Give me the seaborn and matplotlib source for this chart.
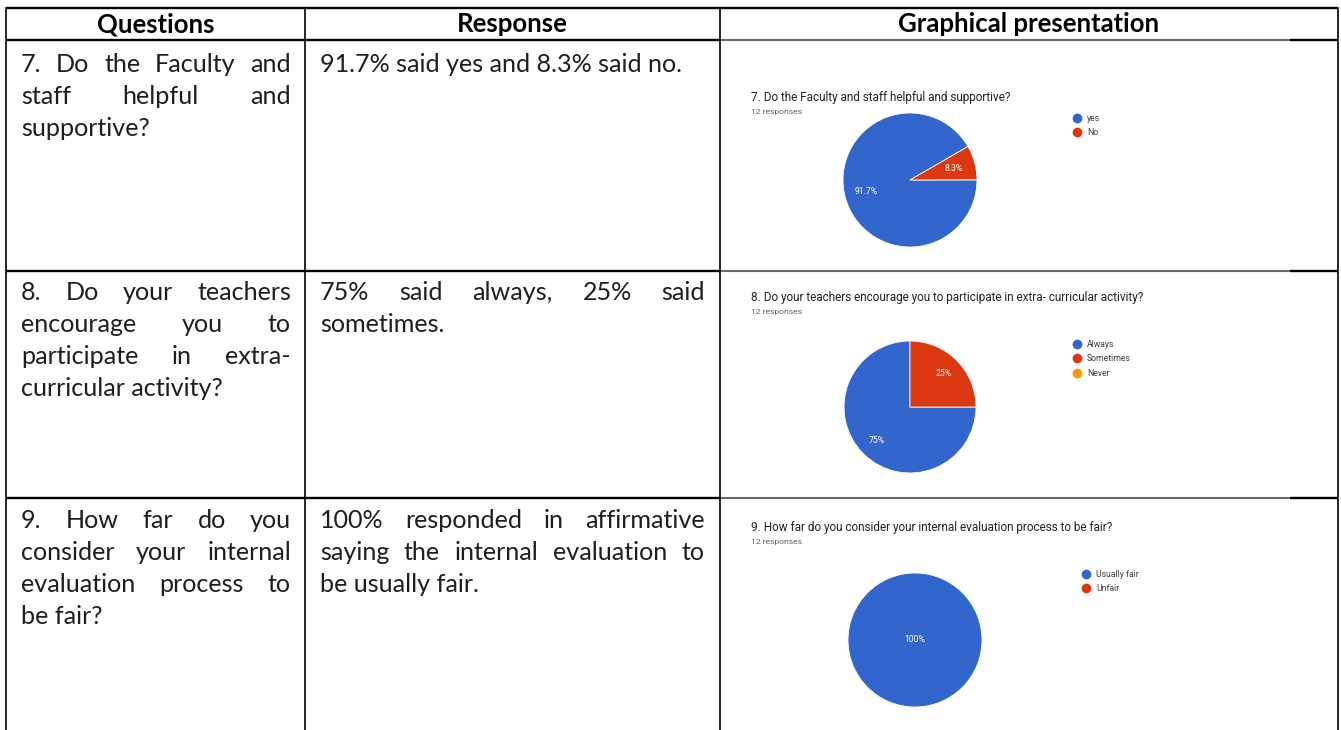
import matplotlib
matplotlib.use("Agg")
import matplotlib.pyplot as plt
import seaborn as sns
from matplotlib.lines import Line2D

# =========================
# DATA
# =========================

headers = ["Questions", "Response", "Graphical presentation"]

question_lines = [
    ["7. Do the Faculty and", "staff helpful and", "supportive?"],
    ["8. Do your teachers", "encourage you to", "participate in extra-", "curricular activity?"],
    ["9. How far do you", "consider your internal", "evaluation process to", "be fair?"],
]

response_lines = [
    ["91.7% said yes and 8.3% said no."],
    ["75% said always, 25% said", "sometimes."],
    ["100% responded in affirmative", "saying the internal evaluation to", "be usually fair."],
]

chart_titles = [
    "7. Do the Faculty and staff helpful and supportive?",
    "8. Do your teachers encourage you to participate in extra- curricular activity?",
    "9. How far do you consider your internal evaluation process to be fair?",
]
n_responses = [12, 12, 12]

labels_q7 = ["yes", "No"]
share_q7 = [91.7, 8.3]

labels_q8 = ["Always", "Sometimes", "Never"]
share_q8 = [75, 25, 0]

labels_q9 = ["Usually fair", "Unfair"]
share_q9 = [100, 0]

# =========================
# STYLE / LAYOUT
# =========================

sns.set_theme(style="white")
palette = sns.color_palette(["#3366cc", "#dc3912", "#ff9900"])

W, H = 1341, 730
fig = plt.figure(figsize=(W / 100, H / 100), dpi=100)
ax = fig.add_axes([0, 0, 1, 1])
ax.set_xlim(0, W)
ax.set_ylim(H, 0)
ax.axis("off")
renderer = fig.canvas.get_renderer()

BODY = dict(family="Lato", color="#1e1e1e")
HEAD = dict(family="Lato", weight="bold", color="black")
GF = "Roboto"


def text_width(s, size, **kw):
    t = ax.text(0, 0, s, fontsize=size, **kw)
    w = t.get_window_extent(renderer).width
    t.remove()
    return w


def fit_size(s, target, **kw):
    return 10 * target / text_width(s, 10, **kw)


def justify(line, x0, x1, y, size, last=False, **kw):
    words = line.split()
    if last or len(words) == 1:
        ax.text(x0, y, line, fontsize=size, va="center", ha="left", **kw)
        return
    widths = [text_width(w, size, **kw) for w in words]
    gap = (x1 - x0 - sum(widths)) / (len(words) - 1)
    x = x0
    for w, wd in zip(words, widths):
        ax.text(x, y, w, fontsize=size, va="center", ha="left", **kw)
        x += wd + gap


body_size = fit_size("91.7% said yes and 8.3% said no.", 363, **BODY)
head_size = fit_size("Graphical presentation", 261, **HEAD)

# table rules
col_x = [6, 305, 720, 1338]
row_y = [8, 40, 271, 498]
for j, y in enumerate(row_y):
    if j == 0:
        ax.plot([col_x[0], col_x[3]], [y, y], color="black", lw=1.7, solid_capstyle="butt")
        continue
    ax.plot([col_x[0], col_x[2]], [y, y], color="black", lw=1.7, solid_capstyle="butt")
    ax.plot([col_x[2], 1290], [y, y], color="#6a6a6a", lw=1.5, solid_capstyle="butt")
    ax.plot([1290, col_x[3]], [y, y], color="black", lw=1.7, solid_capstyle="butt")
for x in col_x:
    ax.plot([x, x], [row_y[0], H], color="black", lw=1.2)

# header
for i, h in enumerate(headers):
    ax.text((col_x[i] + col_x[i + 1]) / 2, 24, h, fontsize=head_size,
            ha="center", va="center", **HEAD)

# body text
row_top = [64, 292, 520]
spacing = 32.3
for r in range(3):
    q = question_lines[r]
    for i, line in enumerate(q):
        justify(line, 21, 291, row_top[r] + i * spacing, body_size,
                last=(i == len(q) - 1), **BODY)
    rr = response_lines[r]
    for i, line in enumerate(rr):
        justify(line, 320, 705, row_top[r] + i * spacing, body_size,
                last=(i == len(rr) - 1), **BODY)

# =========================
# PIE CHARTS
# =========================

charts = [
    (labels_q7, share_q7, (910, 180), 67, 30, 0.68, 97, 1074, 114),
    (labels_q8, share_q8, (910, 407), 66, 90, 0.72, 297, 1074, 340),
    (labels_q9, share_q9, (915, 640), 67, 90, 0.0, 527, 1083, 570),
]

title_size = fit_size(chart_titles[0], 263, family=GF)


def pct_label(p):
    s = f"{p:.1f}%"
    return s.replace(".0%", "%")


for k, (labels, share, (cx, cy), rad, start, pdist, ty, lx, ly) in enumerate(charts):
    ax.text(751, ty, chart_titles[k], fontsize=title_size, family=GF,
            color="#202124", va="center", ha="left")
    ax.text(751, ty + 15, f"{n_responses[k]} responses", fontsize=title_size * 0.72,
            family=GF, color="#5f6368", va="center", ha="left")

    pax = fig.add_axes([(cx - rad) / W, 1 - (cy + rad) / H, 2 * rad / W, 2 * rad / H])
    vals = [v for v in share if v > 0]
    cols = [palette[i] for i, v in enumerate(share) if v > 0]
    wedges, _, autotexts = pax.pie(
        vals, colors=cols, startangle=start, counterclock=True,
        autopct=pct_label, pctdistance=pdist,
        wedgeprops=dict(edgecolor="white", linewidth=0.6),
        textprops=dict(color="white", fontsize=6.2, family=GF),
    )
    pax.set_xlim(-1, 1)
    pax.set_ylim(-1, 1)
    pax.set_aspect("equal")

    handles = [Line2D([0], [0], marker="o", linestyle="none", markersize=6,
                      markerfacecolor=palette[i], markeredgecolor=palette[i])
               for i in range(len(labels))]
    ax.legend(handles, labels, loc="upper left", bbox_to_anchor=(lx, ly),
              bbox_transform=ax.transData, frameon=False,
              handlelength=0.6, handletextpad=0.9, labelspacing=0.62,
              borderpad=0, borderaxespad=0, prop=dict(family=GF, size=6.2),
              labelcolor="#3c4043")
    if k < 2:
        ax.add_artist(ax.get_legend())

fig.savefig("out.png", dpi=100)
